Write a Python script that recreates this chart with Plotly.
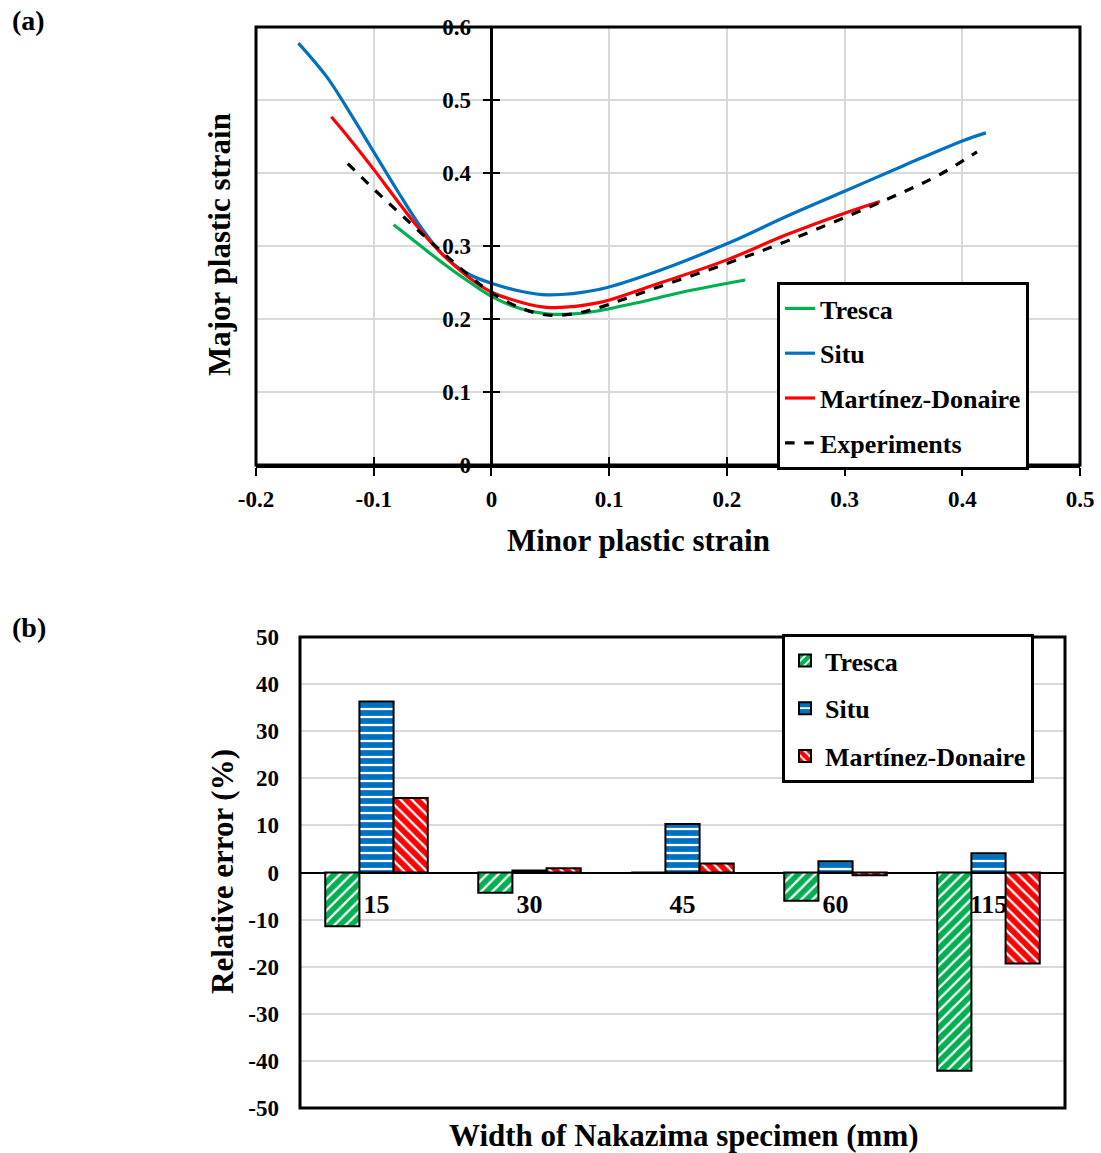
import plotly.graph_objects as go

# ---------------- data: panel (a) ----------------
tresca_x = [-0.083, -0.06, -0.04, -0.02, 0.0, 0.025, 0.047, 0.07, 0.09, 0.126, 0.16, 0.2155]
tresca_y = [0.329, 0.300, 0.275, 0.252, 0.231, 0.214, 0.207, 0.207, 0.211, 0.223, 0.236, 0.2534]

situ_x = [-0.164, -0.14, -0.12, -0.1, -0.08, -0.06, -0.04, -0.02, 0.0, 0.025, 0.047, 0.09, 0.135, 0.2, 0.25, 0.3, 0.35, 0.4, 0.42]
situ_y = [0.578, 0.532, 0.482, 0.429, 0.376, 0.326, 0.286, 0.262, 0.249, 0.238, 0.233, 0.240, 0.262, 0.303, 0.340, 0.375, 0.410, 0.444, 0.455]

md_x = [-0.136, -0.12, -0.1, -0.08, -0.06, -0.04, -0.02, 0.0, 0.025, 0.047, 0.09, 0.135, 0.2, 0.25, 0.3, 0.33]
md_y = [0.477, 0.446, 0.405, 0.362, 0.321, 0.286, 0.258, 0.237, 0.223, 0.216, 0.222, 0.245, 0.281, 0.315, 0.345, 0.361]

exp_x = [-0.122, -0.1, -0.08, -0.06, -0.04, -0.02, 0.0, 0.025, 0.047, 0.07, 0.09, 0.135, 0.2, 0.25, 0.3, 0.35, 0.38, 0.4125]
exp_y = [0.413, 0.378, 0.348, 0.318, 0.289, 0.261, 0.236, 0.215, 0.2055, 0.207, 0.215, 0.240, 0.276, 0.306, 0.339, 0.374, 0.397, 0.429]

a_xtick_vals = [-0.2, -0.1, 0.0, 0.1, 0.2, 0.3, 0.4, 0.5]
a_xtick_text = ["-0.2", "-0.1", "0", "0.1", "0.2", "0.3", "0.4", "0.5"]
a_ytick_vals = [0, 0.1, 0.2, 0.3, 0.4, 0.5, 0.6]
a_ytick_text = ["0", "0.1", "0.2", "0.3", "0.4", "0.5", "0.6"]

# ---------------- data: panel (b) ----------------
widths = ["15", "30", "45", "60", "115"]
err_tresca = [-11.4, -4.3, 0.0, -6.0, -42.1]
err_situ = [36.3, 0.4, 10.3, 2.4, 4.1]
err_md = [15.8, 0.9, 1.9, -0.6, -19.3]
b_ytick_vals = [-50, -40, -30, -20, -10, 0, 10, 20, 30, 40, 50]
b_ytick_text = ["-50", "-40", "-30", "-20", "-10", "0", "10", "20", "30", "40", "50"]

GREEN = "#00b050"
BLUE = "#0070c0"
RED = "#ff0000"
FONT = "Liberation Serif"

W, H = 1101, 1153
a_dx = [256 / W, 1080 / W]
a_dy = [1 - 465 / H, 1 - 27 / H]
b_dx = [300 / W, 1065 / W]
b_dy = [1 - 1108 / H, 1 - 637 / H]

a_xr = [-0.2, 0.5]
a_yr = [0, 0.6]
b_yr = [-50, 50]

yaxis_pos = a_dx[0] + (0 - a_xr[0]) / (a_xr[1] - a_xr[0]) * (a_dx[1] - a_dx[0])
xaxis2_pos = b_dy[0] + (0 - b_yr[0]) / (b_yr[1] - b_yr[0]) * (b_dy[1] - b_dy[0])

fig = go.Figure()

line_w = 3.2
sm = 1.0
fig.add_trace(go.Scatter(x=tresca_x, y=tresca_y, mode="lines", name="Tresca", line=dict(color=GREEN, width=line_w, shape="spline", smoothing=sm), xaxis="x", yaxis="y", legend="legend", legendgroup="t"))
fig.add_trace(go.Scatter(x=situ_x, y=situ_y, mode="lines", name="Situ", line=dict(color=BLUE, width=line_w, shape="spline", smoothing=sm), xaxis="x", yaxis="y", legend="legend", legendgroup="s"))
fig.add_trace(go.Scatter(x=md_x, y=md_y, mode="lines", name="Martínez-Donaire", line=dict(color=RED, width=line_w, shape="spline", smoothing=sm), xaxis="x", yaxis="y", legend="legend", legendgroup="m"))
fig.add_trace(go.Scatter(x=exp_x, y=exp_y, mode="lines", name="Experiments", line=dict(color="black", width=line_w, dash="dash", shape="spline", smoothing=sm), xaxis="x", yaxis="y", legend="legend", legendgroup="e"))

def bar(vals, name, color, shape, size, solidity, grp):
    return go.Bar(
        x=widths, y=vals, name=name, xaxis="x2", yaxis="y2", legend="legend2", legendgroup=grp,
        marker=dict(color="white", line=dict(color="black", width=2),
                    pattern=dict(shape=shape, fgcolor=color, bgcolor="white", fgopacity=1,
                                 size=size, solidity=solidity)),
    )

fig.add_trace(bar(err_tresca, "Tresca", GREEN, "/", 8, 0.72, "bt"))
fig.add_trace(bar(err_situ, "Situ", BLUE, "-", 8, 0.72, "bs"))
fig.add_trace(bar(err_md, "Martínez-Donaire", RED, "\\", 8, 0.72, "bm"))

tickfont = dict(family=FONT, size=23, color="black", weight="bold")
grid = "#d9d9d9"

fig.update_layout(
    width=W, height=H,
    margin=dict(l=0, r=0, t=0, b=0, autoexpand=False),
    paper_bgcolor="white", plot_bgcolor="white",
    showlegend=True,
    bargap=0.33, bargroupgap=0,
    xaxis=dict(domain=a_dx, range=a_xr, anchor="y", tickvals=a_xtick_vals, ticktext=a_xtick_text,
               showgrid=True, gridcolor=grid, gridwidth=1.5, zeroline=False,
               showline=True, linecolor="black", linewidth=3,
               ticks="outside", ticklen=8, tickwidth=2, tickcolor="black",
               tickfont=tickfont, ticklabelstandoff=3, automargin=False),
    xaxis3=dict(domain=a_dx, range=a_xr, anchor="y", overlaying="x", tickvals=a_xtick_vals,
                showgrid=False, zeroline=False, showline=False, showticklabels=False,
                ticks="inside", ticklen=8, tickwidth=2, tickcolor="black", automargin=False),
    yaxis=dict(domain=a_dy, range=a_yr, anchor="free", position=yaxis_pos,
               tickvals=a_ytick_vals, ticktext=a_ytick_text,
               showgrid=True, gridcolor=grid, gridwidth=1.5, zeroline=False,
               showline=True, linecolor="black", linewidth=2.5,
               ticks="outside", ticklen=8, tickwidth=2, tickcolor="black",
               tickfont=tickfont, ticklabelstandoff=7, automargin=False),
    yaxis3=dict(domain=a_dy, range=a_yr, anchor="free", position=yaxis_pos, overlaying="y",
                tickvals=a_ytick_vals, showgrid=False, zeroline=False, showline=False,
                showticklabels=False, ticks="inside", ticklen=8, tickwidth=2, tickcolor="black",
                automargin=False),
    xaxis2=dict(domain=b_dx, anchor="free", position=xaxis2_pos, type="category",
                showgrid=False, zeroline=False, showline=False, ticks="",
                tickfont=dict(family=FONT, size=26, color="black", weight="bold"),
                ticklabelstandoff=13, automargin=False),
    yaxis2=dict(domain=b_dy, range=b_yr, anchor="x2", tickvals=b_ytick_vals, ticktext=b_ytick_text,
                showgrid=True, gridcolor=grid, gridwidth=1.5,
                zeroline=True, zerolinecolor="black", zerolinewidth=2,
                showline=False, ticks="", tickfont=dict(family=FONT, size=23, color="black", weight="bold"),
                ticklabelstandoff=20, automargin=False),
    legend=dict(x=777 / W, y=1 - 282 / H, xanchor="left", yanchor="top",
                bgcolor="white", bordercolor="black", borderwidth=3,
                font=dict(family=FONT, size=26, color="black", weight="bold"),
                tracegroupgap=8, traceorder="grouped"),
    legend2=dict(x=782 / W, y=1 - 634 / H, xanchor="left", yanchor="top",
                 bgcolor="white", bordercolor="black", borderwidth=3,
                 font=dict(family=FONT, size=26, color="black", weight="bold"),
                 tracegroupgap=11, traceorder="grouped"),
)

# invisible helper trace so the crossing-tick overlay axes are drawn
fig.add_trace(go.Scatter(x=[a_xr[0]], y=[a_yr[0]], xaxis="x3", yaxis="y3", mode="markers",
                         marker=dict(opacity=0), showlegend=False, hoverinfo="skip"))

# frames
fig.add_shape(type="rect", xref="x domain", yref="y domain", x0=0, x1=1, y0=0, y1=1,
              line=dict(color="black", width=3), layer="above")
fig.add_shape(type="rect", xref="x2 domain", yref="y2 domain", x0=0, x1=1, y0=0, y1=1,
              line=dict(color="black", width=3), layer="above")

titlefont = dict(family=FONT, size=31, color="black", weight="bold")
fig.add_annotation(text="Minor plastic strain", x=638 / W, y=1 - 541 / H, xref="paper", yref="paper",
                   showarrow=False, font=titlefont, xanchor="center", yanchor="middle")
fig.add_annotation(text="Major plastic strain", x=220 / W, y=1 - 245 / H, xref="paper", yref="paper",
                   showarrow=False, font=titlefont, textangle=-90, xanchor="center", yanchor="middle")
fig.add_annotation(text="Relative error (%)", x=222 / W, y=1 - 872 / H, xref="paper", yref="paper",
                   showarrow=False, font=titlefont, textangle=-90, xanchor="center", yanchor="middle")
fig.add_annotation(text="Width of Nakazima specimen (mm)", x=684 / W, y=1 - 1135 / H, xref="paper", yref="paper",
                   showarrow=False, font=titlefont, xanchor="center", yanchor="middle")
labfont = dict(family=FONT, size=28, color="black", weight="bold")
fig.add_annotation(text="(a)", x=10 / W, y=1 - 21 / H, xref="paper", yref="paper", showarrow=False,
                   font=labfont, xanchor="left", yanchor="middle")
fig.add_annotation(text="(b)", x=10 / W, y=1 - 628 / H, xref="paper", yref="paper", showarrow=False,
                   font=labfont, xanchor="left", yanchor="middle")

fig.write_html("out.html")
